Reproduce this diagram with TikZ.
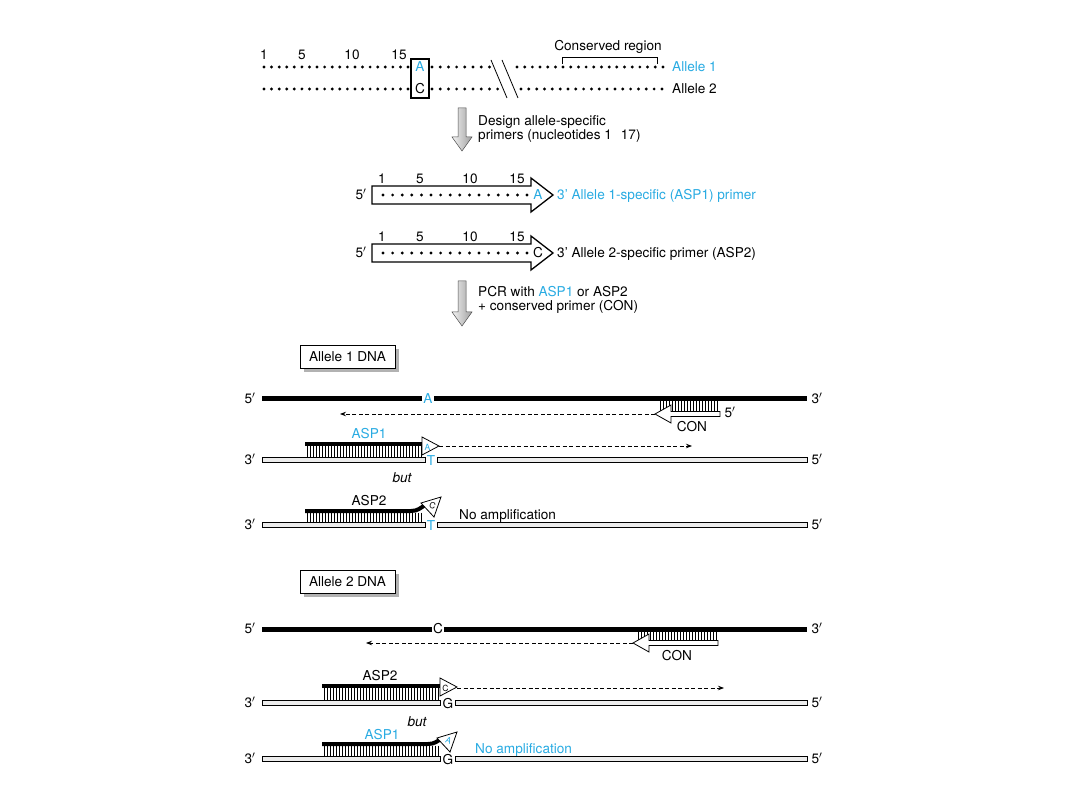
\documentclass[tikz,border=0pt]{standalone}
\usepackage{fontspec}
\setmainfont{TeX Gyre Heros}
\usetikzlibrary{arrows.meta}
\definecolor{asblue}{RGB}{41,171,226}
\begin{document}
\begin{tikzpicture}[x=1pt,y=-1pt,
  font=\fontsize{13.6}{16}\selectfont,
  lbl/.style={inner sep=0pt, anchor=west, text height=9.8pt, text depth=0pt},
  num/.style={inner sep=0pt, text height=9.8pt, text depth=0pt},
  small/.style={inner sep=0pt, font=\fontsize{8.5}{9}\selectfont, text height=6pt, text depth=0pt},
  nt/.style={fill=black},
  topstrand/.style={fill=black},
  botstrand/.style={draw=black, line width=0.9, fill=gray!15},
  hatch/.style={line width=0.55},
  primerline/.style={line width=4, line cap=butt},
  tri/.style={draw=black, line width=0.8, fill=white, line join=miter},
  dasharrow/.style={line width=0.8, dash pattern=on 4pt off 2.5pt, -{Stealth[length=6pt,width=4.5pt]}},
  grayarrow/.style={left color=gray!10, right color=gray!75, draw=gray!60!black, line width=0.5},
  blockarrow/.style={draw=black, line width=1.3, fill=white, line join=miter},
  boxshadow/.style={fill=gray!60},
  dnabox/.style={draw=black, line width=0.8, fill=white, inner sep=0pt, minimum width=95, minimum height=23}
]
\useasboundingbox (0,0) rectangle (1080,810);

% ---------- top sequences ----------
\foreach \n/\x in {1/264,5/302,10/352,15/399} \node[num] at (\x,55) {\n};
\foreach \i in {0,...,19} \fill[nt] ({264+\i*7.58},67) circle (1.6);
\foreach \i in {0,...,7}  \fill[nt] ({432+\i*8.2},67) circle (1.6);
\foreach \i in {0,...,19} \fill[nt] ({517+\i*7.68},67) circle (1.6);
\foreach \i in {0,...,19} \fill[nt] ({264+\i*7.58},89) circle (1.6);
\foreach \i in {0,...,8}  \fill[nt] ({432+\i*8.2},89) circle (1.6);
\foreach \i in {0,...,18} \fill[nt] ({521+\i*7.83},89) circle (1.6);
\draw[line width=1.1] (411,59) rectangle (429,98);
\node[num, text=asblue] (snpA) at (420,67) {A};
\node[num] (snpC) at (420,89) {C};
\draw[line width=0.8] (491,60) -- (507,98);
\draw[line width=0.8] (502,60) -- (518,98);
\draw[line width=0.8] (562,64) -- (562,57) -- (657,57) -- (657,64);
\node[num] (cons) at (608,46) {Conserved region};
\node[lbl, text=asblue] (al1) at (672,67) {Allele 1};
\node[lbl] (al2) at (672,89) {Allele 2};

% ---------- first gray arrow ----------
\shade[grayarrow] (458,108) -- (466,108) -- (466,137) -- (472,137) -- (462,151) -- (452,137) -- (458,137) -- cycle;
\node[lbl] (des1) at (478,121) {Design allele-specific};
\node[lbl] (des2) at (478,135) {primers (nucleotides 1\hspace{9pt}17)};

% ---------- primer ASP1 ----------
\node[num] (p1five) at (361,195) {5$'$};
\draw[blockarrow] (372,186) -- (531,186) -- (531,178) -- (553,195) -- (531,212) -- (531,204) -- (372,204) -- cycle;
\foreach \i in {0,...,15} \fill[nt] ({383+\i*9.6},195) circle (1.6);
\foreach \n/\x in {1/382,5/420,10/470,15/517} \node[num] at (\x,179) {\n};
\node[num, text=asblue] (p1A) at (538,195) {A};
\node[lbl, text=asblue] (p1lbl) at (557,195) {3' Allele 1-specific (ASP1) primer};

% ---------- primer ASP2 ----------
\node[num] (p2five) at (361,253) {5$'$};
\draw[blockarrow] (372,244) -- (531,244) -- (531,236) -- (553,253) -- (531,270) -- (531,262) -- (372,262) -- cycle;
\foreach \i in {0,...,15} \fill[nt] ({383+\i*9.6},253) circle (1.6);
\foreach \n/\x in {1/382,5/420,10/470,15/517} \node[num] at (\x,237) {\n};
\node[num] (p2C) at (538,253) {C};
\node[lbl] (p2lbl) at (557,253) {3' Allele 2-specific primer (ASP2)};

% ---------- second gray arrow ----------
\shade[grayarrow] (458,281) -- (466,281) -- (466,312) -- (472,312) -- (462,326) -- (452,312) -- (458,312) -- cycle;
\node[lbl] (pcr1) at (478,292) {PCR with \textcolor{asblue}{ASP1} or ASP2};
\node[lbl] (pcr2) at (478,306) {+ conserved primer (CON)};

% =========== Allele 1 DNA ===========
\fill[boxshadow] (304,349) rectangle (399,372);
\node[dnabox] (box1) at (347.5,356.5) {Allele 1 DNA};

% top strand
\node[num] (a1t5) at (250,399) {5$'$};
\node[num] (a1t3) at (817,399) {3$'$};
\fill[topstrand] (262,396.5) rectangle (422,401.5);
\fill[topstrand] (434,396.5) rectangle (807,401.5);
\node[num, text=asblue] (a1A) at (428,399) {A};
% CON primer
\foreach \x in {660,663,...,718} \draw[hatch] (\x,401.5) -- (\x,411.5);
\draw[tri] (720,411.5) -- (671,411.5) -- (671,405) -- (655,414) -- (671,423) -- (671,416.5) -- (720,416.5) -- cycle;
\node[num] (con1) at (692,427) {CON};
\node[num] (con1five) at (730,413) {5$'$};
\coordinate (c1tip) at (655,414);
\coordinate (c1end) at (340,414);
\draw[dasharrow] (c1tip) -- (c1end);

% ASP1 row
\node[num] (a1b3) at (250,460) {3$'$};
\node[num] (a1b5) at (817,460) {5$'$};
\draw[botstrand] (262,457.5) rectangle (425,462.5);
\draw[botstrand] (437,457.5) rectangle (807,462.5);
\node[num, text=asblue] (a1T) at (431,461) {T};
\foreach \x in {307,310,...,421} \draw[hatch] (\x,445.5) -- (\x,457.5);
\draw[primerline] (305,444) -- (423,444);
\draw[tri] (422,437) -- (439,446) -- (422,455) -- cycle;
\node[small, text=asblue] (a1pA) at (427.5,447) {A};
\node[num, text=asblue] (asp1a) at (369,434) {ASP1};
\coordinate (p1tip) at (439,446);
\coordinate (p1end) at (692,446);
\draw[dasharrow] (p1tip) -- (p1end);

\node[num, font=\fontsize{13.6}{16}\selectfont\itshape] (but1) at (402,478) {but};

% ASP2 row (no amplification)
\node[num] (a1c3) at (250,525) {3$'$};
\node[num] (a1c5) at (817,525) {5$'$};
\draw[botstrand] (262,522.5) rectangle (425,527.5);
\draw[botstrand] (437,522.5) rectangle (807,527.5);
\node[num, text=asblue] (a1T2) at (431,526) {T};
\foreach \x in {307,310,...,421} \draw[hatch] (\x,512.5) -- (\x,522.5);
\draw[primerline] (305,511) -- (411,511) .. controls (418,511) and (420,508) .. (427,504);
\draw[tri] (421,503) -- (441,497) -- (434,517) -- cycle;
\node[small, rotate=-20] (a1pC) at (432.5,505.5) {C};
\node[num] (asp2a) at (369,501) {ASP2};
\node[lbl] (noamp1) at (459,515) {No amplification};

% =========== Allele 2 DNA ===========
\fill[boxshadow] (304,574) rectangle (399,597);
\node[dnabox] (box2) at (347.5,581.5) {Allele 2 DNA};

\node[num] (a2t5) at (250,629) {5$'$};
\node[num] (a2t3) at (817,629) {3$'$};
\fill[topstrand] (262,626.5) rectangle (432,631.5);
\fill[topstrand] (444,626.5) rectangle (807,631.5);
\node[num] (a2C) at (438,629) {C};
\foreach \x in {638,641,...,716} \draw[hatch] (\x,631.5) -- (\x,640.5);
\draw[tri] (718,640.5) -- (649,640.5) -- (649,634) -- (633,643) -- (649,652) -- (649,645.5) -- (718,645.5) -- cycle;
\node[num] (con2) at (677,656) {CON};
\coordinate (c2tip) at (633,643);
\coordinate (c2end) at (366,643);
\draw[dasharrow] (c2tip) -- (c2end);

% ASP2 row
\node[num] (a2b3) at (250,703) {3$'$};
\node[num] (a2b5) at (817,703) {5$'$};
\draw[botstrand] (262,700.5) rectangle (440,705.5);
\draw[botstrand] (455,700.5) rectangle (807,705.5);
\node[num] (a2G) at (448,704) {G};
\foreach \x in {324,327,...,438} \draw[hatch] (\x,687.5) -- (\x,700.5);
\draw[primerline] (322,686) -- (441,686);
\draw[tri] (440,678) -- (457,687) -- (440,696) -- cycle;
\node[small] (a2pC) at (445.5,688) {C};
\node[num] (asp2b) at (380,676) {ASP2};
\coordinate (p2tip) at (457,688);
\coordinate (p2end) at (724,688);
\draw[dasharrow] (p2tip) -- (p2end);

\node[num, font=\fontsize{13.6}{16}\selectfont\itshape] (but2) at (417,722) {but};

% ASP1 row (no amplification)
\node[num] (a2c3) at (250,759) {3$'$};
\node[num] (a2c5) at (817,759) {5$'$};
\draw[botstrand] (262,756.5) rectangle (440,761.5);
\draw[botstrand] (455,756.5) rectangle (807,761.5);
\node[num] (a2G2) at (448,760) {G};
\foreach \x in {324,327,...,438} \draw[hatch] (\x,745.5) -- (\x,756.5);
\draw[primerline] (322,744) -- (428,744) .. controls (435,744) and (437,741) .. (443,738);
\draw[tri] (437,738) -- (457,732) -- (450,752) -- cycle;
\node[small, rotate=-20, text=asblue] (a2pA) at (448.5,740.5) {A};
\node[num, text=asblue] (asp1b) at (382,735) {ASP1};
\node[lbl, text=asblue] (noamp2) at (475,749) {No amplification};

\end{tikzpicture}
\end{document}
